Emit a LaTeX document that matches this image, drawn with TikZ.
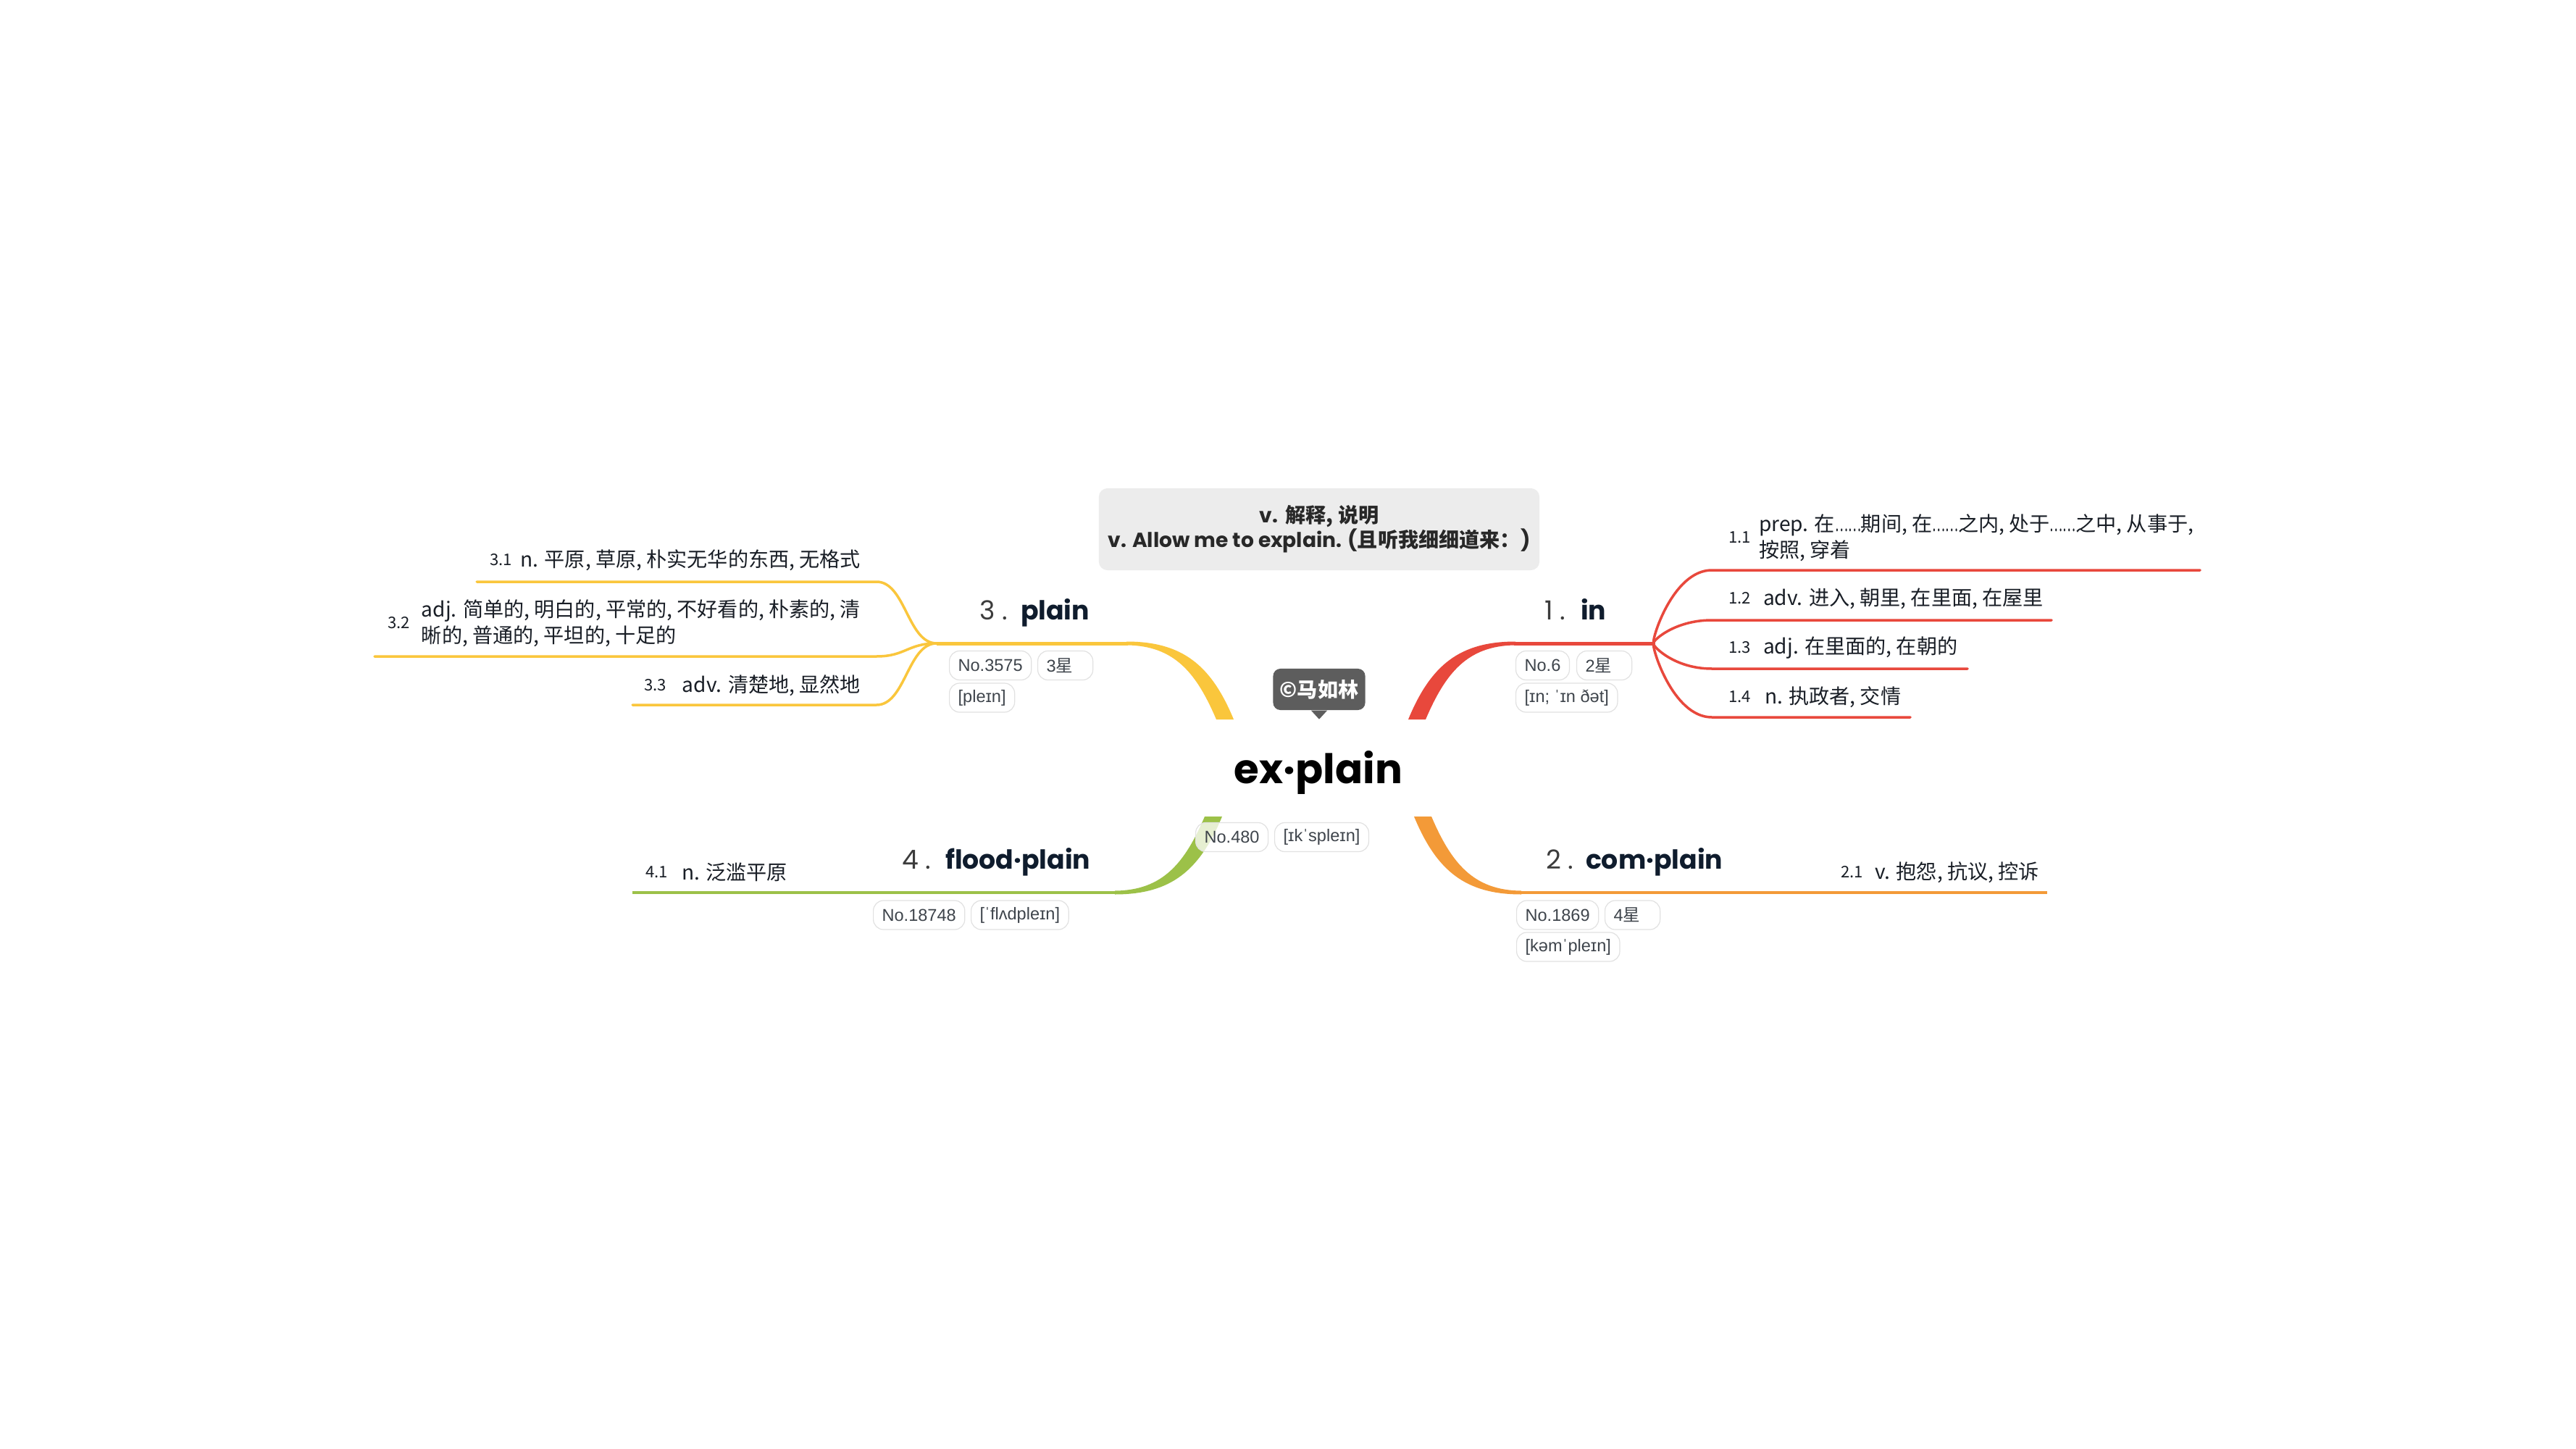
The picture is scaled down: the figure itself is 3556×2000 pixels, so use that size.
\documentclass[tikz,border=0pt]{standalone}
\usepackage{fontspec}
\setmainfont{Liberation Sans}
\newfontfamily\pop{Poppins}
\newfontfamily\cjk{Noto Sans CJK SC}
\newfontfamily\tagf{Liberation Sans}
% compact ellipsis for the dictionary glosses
\newcommand\gapdots{\scalebox{0.6}[1]{……}}

\definecolor{bred}{RGB}{232,72,60}
\definecolor{borange}{RGB}{243,154,56}
\definecolor{byellow}{RGB}{250,198,60}
\definecolor{bgreen}{RGB}{156,193,72}
\definecolor{headc}{RGB}{15,28,45}
\definecolor{numc}{RGB}{60,60,60}
\definecolor{labelc}{RGB}{25,30,38}
\definecolor{pillline}{RGB}{225,225,225}
\definecolor{pilltext}{RGB}{62,68,75}
\definecolor{notefill}{RGB}{236,236,236}
\definecolor{notetext}{RGB}{40,40,40}
\definecolor{creditfill}{RGB}{93,93,93}

\tikzset{
  txt/.style={inner sep=0pt, outer sep=0pt},
  heading/.style={txt, anchor=base west, text=headc,
    font=\pop\bfseries\fontsize{10.3pt}{12pt}\selectfont},
  headnum/.style={txt, anchor=base west, text=numc,
    font=\pop\fontsize{10.3pt}{12pt}\selectfont},
  label/.style={txt, anchor=west, align=left, text=labelc,
    font=\cjk\fontsize{8pt}{10.2pt}\selectfont},
  subnum/.style={txt, anchor=west, text=labelc,
    font=\cjk\fontsize{6.3pt}{8pt}\selectfont},
  pill/.style={draw=pillline, line width=0.012cm, fill=white, fill opacity=0.75,
    text opacity=1, rounded corners=0.14cm, minimum height=0.40cm,
    inner xsep=0.12cm, inner ysep=0pt, anchor=west, text=pilltext,
    font=\tagf\fontsize{6.7pt}{8pt}\selectfont},
  starpill/.style={pill, text width=0.52cm, align=left},
  subline/.style={line width=0.035cm, line cap=round},
  mainline/.style={line width=0.05cm},
}

\begin{document}
\begin{tikzpicture}[x={(0.01cm,0)}, y={(0,-0.01cm)}]
\useasboundingbox (0,0) rectangle (3556,2000);
\fill[white] (0,0) rectangle (3556,2000);

% ---- fork points and ends of the branch lines
\coordinate (f1) at (2283,888);
\coordinate (f3) at (1293,888);
\coordinate (e2) at (2826,1232);
\coordinate (e4) at (873,1232);

% ---- thick tapered main branches
\fill[bred] (1944,993) .. controls (1975,918) and (2015,885.5) .. (2092,885.5)
  -- (2092,890.5) .. controls (2025,891) and (1995,930) .. (1968,993) -- cycle;
\draw[bred, mainline] (2090,888) -- (f1);

\fill[byellow] (1703,993) .. controls (1672,918) and (1632,885.5) .. (1555,885.5)
  -- (1555,890.5) .. controls (1622,891) and (1652,930) .. (1679,993) -- cycle;
\draw[byellow, mainline] (1557,888) -- (f3);

\fill[borange] (1952,1127) .. controls (1983,1202) and (2023,1234.5) .. (2100,1234.5)
  -- (2100,1229.5) .. controls (2033,1229) and (2003,1190) .. (1976,1127) -- cycle;
\draw[borange, line width=0.045cm] (2098,1232) -- (e2);

\fill[bgreen] (1687,1127) .. controls (1656,1202) and (1616,1234.5) .. (1539,1234.5)
  -- (1539,1229.5) .. controls (1606,1229) and (1636,1190) .. (1663,1127) -- cycle;
\draw[bgreen, line width=0.045cm] (1541,1232) -- (e4);

% ---- sub-branches of "in"
\foreach \yy/\xe [count=\i] in {787/3037, 856/2832, 923/2716, 990/2637}{
  \coordinate (s1\i) at (2363,\yy);
  \coordinate (t1\i) at (\xe,\yy);
  \draw[bred, subline] (f1) .. controls +(-5,0) and +(-55,0) .. (s1\i) -- (t1\i);
}
\draw[bred, subline] (2268,888) -- (f1);

% ---- sub-branches of "plain"
\foreach \yy/\xe [count=\i] in {803/658, 906/517, 973/873}{
  \coordinate (s3\i) at (1210,\yy);
  \coordinate (t3\i) at (\xe,\yy);
  \draw[byellow, subline] (f3) .. controls +(-40,0) and +(40,0) .. (s3\i) -- (t3\i);
}

% ---- note box
\node[fill=notefill, rounded corners=0.12cm, minimum width=6.08cm,
  minimum height=1.13cm, align=center, text=notetext, inner sep=0pt,
  font=\fontsize{8pt}{10.2pt}\selectfont] (note) at (1821,730.5)
  {{\pop\bfseries v.} {\cjk\bfseries 解释, 说明}\\[-0.5pt]
   {\pop\bfseries v. Allow me to explain. (}{\cjk\bfseries 且听我细细道来：}{\pop\bfseries )}};

% ---- central topic
\node[txt, anchor=base, text=black,
  font=\pop\bfseries\fontsize{16pt}{18pt}\selectfont] (root) at (1820,1081) {ex·plain};

% ---- author badge
\node[fill=creditfill, rounded corners=0.1cm, minimum width=1.27cm,
  minimum height=0.57cm, inner sep=0pt, text=white,
  font=\cjk\bfseries\fontsize{8pt}{9pt}\selectfont] (credit) at (1821,951.5) {©马如林};
\fill[creditfill] ([xshift=-0.11cm]credit.south) -- ([yshift=-0.12cm]credit.south)
  -- ([xshift=0.11cm]credit.south) -- cycle;

% ---- tags of the central word
\node[pill] (c480) at (1650,1155.5) {No.480};
\node[pill] (cipa) at (1759,1155.5) {[ɪkˈspleɪn]};

% ---- branch 1: in
\node[headnum] (n1) at (2132,855) {1 .};
\node[heading] (h1) at (2182,855) {in};
\node[pill] (p1a) at (2092,918.5) {No.6};
\node[starpill] (p1b) at (2176,918.5) {2{\cjk 星}};
\node[pill] (p1c) at (2092,963) {[ɪn; ˈɪn ðət]};

\node[subnum] (k11) at (2386,742) {1.1};
\node[label] (d11) at (2428,742) {prep. 在\gapdots 期间, 在\gapdots 之内, 处于\gapdots 之中, 从事于,\\按照, 穿着};
\node[subnum] (k12) at (2386,826) {1.2};
\node[label] (d12) at (2434,826) {adv. 进入, 朝里, 在里面, 在屋里};
\node[subnum] (k13) at (2386,894) {1.3};
\node[label] (d13) at (2434,894) {adj. 在里面的, 在朝的};
\node[subnum] (k14) at (2386,962) {1.4};
\node[label] (d14) at (2436,962) {n. 执政者, 交情};

% ---- branch 2: com·plain
\node[headnum] (n2) at (2134,1199) {2 .};
\node[heading] (h2) at (2189,1199) {com·plain};
\node[pill] (p2a) at (2093,1263) {No.1869};
\node[starpill] (p2b) at (2215,1263) {4{\cjk 星}};
\node[pill] (p2c) at (2093,1307) {[kəmˈpleɪn]};

\node[subnum] (k21) at (2541,1204) {2.1};
\node[label] (d21) at (2588,1204) {v. 抱怨, 抗议, 控诉};

% ---- branch 3: plain
\node[headnum] (n3) at (1352,855) {3 .};
\node[heading] (h3) at (1409,855) {plain};
\node[pill] (p3a) at (1310,918.5) {No.3575};
\node[starpill] (p3b) at (1432,918.5) {3{\cjk 星}};
\node[pill] (p3c) at (1310,963) {[pleɪn]};

\node[subnum] (k31) at (676,773) {3.1};
\node[label, anchor=east] (d31) at (1188,773) {n. 平原, 草原, 朴实无华的东西, 无格式};
\node[subnum] (k32) at (535,860) {3.2};
\node[label, anchor=east] (d32) at (1188,860) {adj. 简单的, 明白的, 平常的, 不好看的, 朴素的, 清\\晰的, 普通的, 平坦的, 十足的};
\node[subnum] (k33) at (889,946) {3.3};
\node[label, anchor=east] (d33) at (1188,946) {adv. 清楚地, 显然地};

% ---- branch 4: flood·plain
\node[headnum] (n4) at (1245,1199) {4 .};
\node[heading] (h4) at (1305,1199) {flood·plain};
\node[pill] (p4a) at (1205,1263) {No.18748};
\node[pill] (p4b) at (1340,1263) {[ˈflʌdpleɪn]};

\node[subnum] (k41) at (891,1204) {4.1};
\node[label] (d41) at (941,1204) {n. 泛滥平原};
\end{tikzpicture}
\end{document}
